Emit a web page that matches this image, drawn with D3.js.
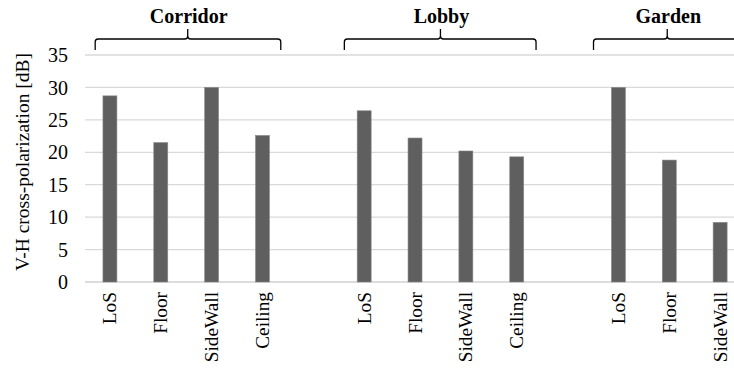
<!DOCTYPE html>
<html><head><meta charset="utf-8">
<script src="https://cdn.jsdelivr.net/npm/d3@7"></script>
<style>body{margin:0;background:#fff}svg{display:block}</style>
</head><body><svg id="c" width="734" height="369"></svg>
<script>
// Data
const slots = ["C-LoS","C-Floor","C-SideWall","C-Ceiling","gap1","L-LoS","L-Floor","L-SideWall","L-Ceiling","gap2","G-LoS","G-Floor","G-SideWall","G-Ceiling"];
const categories = ["C-LoS","C-Floor","C-SideWall","C-Ceiling","L-LoS","L-Floor","L-SideWall","L-Ceiling","G-LoS","G-Floor","G-SideWall"];
const labels = ["LoS","Floor","SideWall","Ceiling","LoS","Floor","SideWall","Ceiling","LoS","Floor","SideWall"];
const values = [28.7,21.5,30.0,22.6,26.4,22.2,20.2,19.3,30.0,18.8,9.2];
const yTicks = [0,5,10,15,20,25,30,35];
const groupNames = ["Corridor","Lobby","Garden"];
// bracket extents in slot units (annotation geometry)
const groupSpan = [[0.21,2.03,3.86],[5.11,7.0,8.88],[10.01,11.46,12.91]];

const FONT = "Liberation Serif";
const svg = d3.select("#c");
const x0 = 84.5, step = 50.85;
const x = d3.scaleBand().domain(slots).range([x0, x0 + step*slots.length]).paddingInner(0.725).paddingOuter(0.3625);
const y = d3.scaleLinear().domain([0,35]).range([282,55]);
const sx = s => x0 + s*step;

// gridlines
svg.append("g").selectAll("line").data(yTicks).join("line")
  .attr("x1",85).attr("x2",734).attr("y1",d=>y(d)).attr("y2",d=>y(d))
  .attr("stroke",d=>d===0?"#d0d0d0":"#d9d9d9").attr("stroke-width",1.3);

// y axis labels
const yAxis = d3.axisLeft(y).tickValues(yTicks).tickSize(0).tickPadding(0);
const ga = svg.append("g").attr("transform","translate(68,0)").call(yAxis)
  .attr("font-family",FONT).attr("font-size",20);
ga.select(".domain").remove();
ga.selectAll("text").attr("fill","#000").attr("dy","0.33em")
  .style("font-family",FONT).style("font-size","20px");

// bars
svg.append("g").selectAll("rect").data(categories).join("rect")
  .attr("x",d=>x(d)).attr("width",x.bandwidth())
  .attr("y",(d,i)=>y(values[i])).attr("height",(d,i)=>y(0)-y(values[i]))
  .attr("fill","#5f5f5f").attr("stroke","#8a8a8a").attr("stroke-width",0.6);

// x labels
svg.append("g").selectAll("text").data(categories).join("text")
  .attr("transform",d=>`translate(${x(d)+x.bandwidth()/2+6.5},292) rotate(-90)`)
  .attr("text-anchor","end").attr("fill","#000")
  .style("font-family",FONT).style("font-size","19.3px")
  .text((d,i)=>labels[i]);

// y title
svg.append("text").attr("transform","translate(29,162) rotate(-90)")
  .attr("text-anchor","middle").attr("fill","#000")
  .style("font-family",FONT).style("font-size","19.5px")
  .text("V-H cross-polarization [dB]");

// group brackets & labels
groupNames.forEach((g,i)=>{
  const [a,m,b] = groupSpan[i].map(sx);
  const yb = 39, yend = 50, ytop = 29, r = 3;
  const p = `M${a},${yend} L${a},${yb+r} Q${a},${yb} ${a+r},${yb} L${m-r},${yb} Q${m},${yb} ${m},${yb-r} L${m},${ytop} M${m},${yb-r} Q${m},${yb} ${m+r},${yb} L${b-r},${yb} Q${b},${yb} ${b},${yb+r} L${b},${yend}`;
  svg.append("path").attr("d",p).attr("fill","none").attr("stroke","#000").attr("stroke-width",1.3);
  svg.append("text").attr("x",m+1).attr("y",23).attr("text-anchor","middle")
    .attr("fill","#000").style("font-family",FONT).style("font-size","20px").style("font-weight","bold").text(g);
});
</script></body></html>
